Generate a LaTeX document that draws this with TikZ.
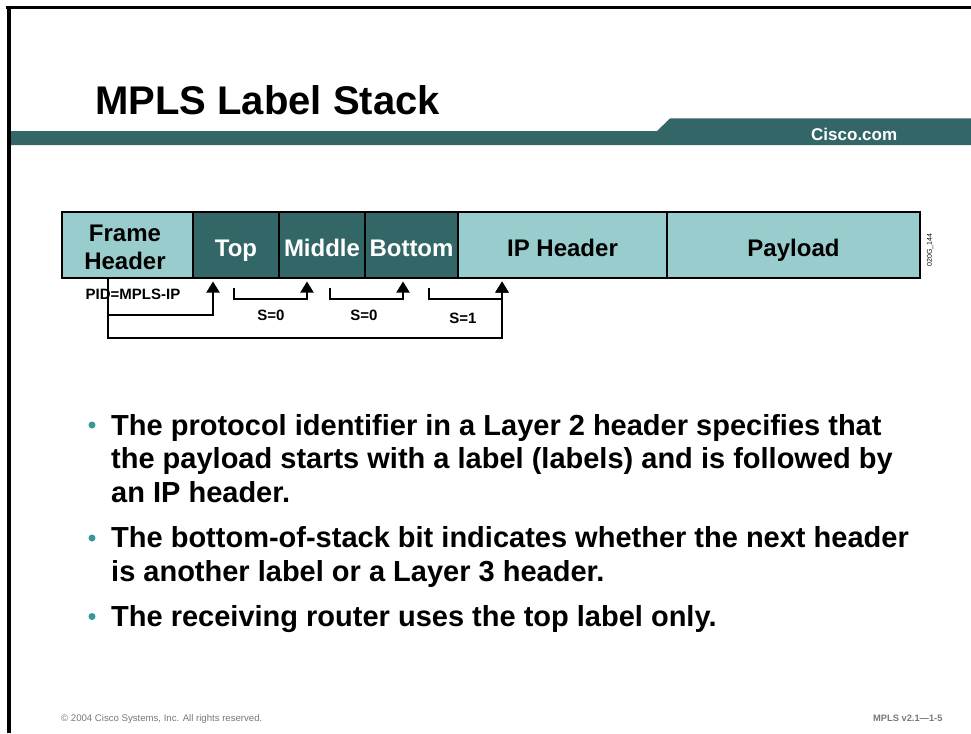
\documentclass[tikz,border=0pt]{standalone}
\usepackage{fontspec}
\setmainfont{Liberation Sans}
\usetikzlibrary{arrows.meta}
\definecolor{darkteal}{RGB}{51,102,102}
\definecolor{lightteal}{RGB}{153,204,204}
\definecolor{bullteal}{RGB}{51,153,153}
\definecolor{footgray}{RGB}{120,120,120}
\begin{document}
\begin{tikzpicture}[x=1pt,y=-1pt,
  field/.style={draw=black,line width=1.6pt,minimum height=66pt,inner sep=0pt,font=\fontsize{24}{28}\selectfont\bfseries,text height=23pt,text depth=0pt},
  lightfield/.style={field,fill=lightteal,text=black},
  darkfield/.style={field,fill=darkteal,text=white},
  conn/.style={line width=1.9pt,black},
  arr/.style={conn,-{Triangle[width=13pt,length=11pt]}},
  small/.style={font=\fontsize{15}{18}\selectfont\bfseries,inner sep=0pt},
  btext/.style={anchor=base west,inner sep=0pt,font=\fontsize{29}{34}\selectfont\bfseries},
  bdot/.style={circle,fill=bullteal,minimum size=7pt,inner sep=0pt}
]
\useasboundingbox (0,0) rectangle (971,733);
\fill[white] (0,0) rectangle (971,733);
% frame
\draw[line width=3.6pt] (6,7.7) -- (971,7.7);
\draw[line width=4pt] (8.8,5.9) -- (8.8,733);
% header bar
\fill[darkteal] (11,131) -- (657,131) -- (670,118.5) -- (971,118.5) -- (971,145) -- (11,145) -- cycle;
\node[anchor=base west,inner sep=0pt,font=\fontsize{40}{48}\selectfont\bfseries] (title) at (95,114) {MPLS Label Stack};
\node[anchor=base west,inner sep=0pt,text=white,font=\fontsize{17}{20}\selectfont\bfseries] (cisco) at (811,140) {Cisco.com};
% fields
\node[lightfield,minimum width=131pt] (fh) at (127.5,245) {};
\node[inner sep=0pt,align=center,font=\fontsize{24}{28}\selectfont\bfseries] (fhl) at (125,247) {Frame\\Header};
\node[darkfield,minimum width=86pt] (top) at (236,245) {Top};
\node[darkfield,minimum width=86pt] (mid) at (322,245) {Middle};
\node[darkfield,minimum width=93pt] (bot) at (411.5,245) {Bottom};
\node[lightfield,minimum width=209pt] (ip) at (562.5,245) {IP Header};
\node[lightfield,minimum width=253pt] (pay) at (793.5,245) {Payload};
\node[rotate=90,inner sep=0pt,font=\fontsize{7}{8}\selectfont] (code) at (930,250) {020G\_144};
% connector coordinates
\coordinate (pid) at (108,0);
\coordinate (c1) at (213,0);
\coordinate (sa) at (234,0); \coordinate (sae) at (307,0);
\coordinate (sb) at (330,0); \coordinate (sbe) at (403,0);
\coordinate (sc) at (429,0); \coordinate (sce) at (502,0);
\coordinate (ylow) at (0,338);
\coordinate (ymid) at (0,315);
\coordinate (ys) at (0,299);
\coordinate (ystart) at (0,288);
\coordinate (yend) at (0,281.5);
% connectors
\draw[arr] (fh.south -| pid) -- (pid |- ylow) -| (sce |- yend);
\draw[arr] (pid |- ymid) -| (c1 |- yend);
\draw[arr] (sa |- ystart) |- (sae |- ys) -- (sae |- yend);
\draw[arr] (sb |- ystart) |- (sbe |- ys) -- (sbe |- yend);
\draw[arr] (sc |- ystart) |- (sce |- ys) -- (sce |- yend);
% labels
\node[small] (pidl) at (133,294) {PID=MPLS-IP};
\node[small] (s0a) at (271,315.5) {S=0};
\node[small] (s0b) at (364,315.5) {S=0};
\node[small] (s1) at (463,318.5) {S=1};
% bullets
\node[bdot] (b1) at (92,425) {};
\node[btext] (l1) at (111,435) {The protocol identifier in a Layer 2 header specifies that};
\node[btext] (l2) at (111,468.5) {the payload starts with a label (labels) and is followed by};
\node[btext] (l3) at (111,502) {an IP header.};
\node[bdot] (b2) at (92,538) {};
\node[btext] (l4) at (111,547.5) {The bottom-of-stack bit indicates whether the next header};
\node[btext] (l5) at (111,581) {is another label or a Layer 3 header.};
\node[bdot] (b3) at (92,616.5) {};
\node[btext] (l6) at (111,626.5) {The receiving router uses the top label only.};
% footer
\node[anchor=base west,inner sep=0pt,text=footgray,font=\fontsize{9.6}{11}\selectfont] (copy) at (61,721) {\textcopyright{} 2004 Cisco Systems, Inc. All rights reserved.};
\node[anchor=base west,inner sep=0pt,text=footgray,font=\fontsize{9.3}{11}\selectfont\bfseries] (ver) at (873,721) {MPLS v2.1\textemdash1-5};
\end{tikzpicture}
\end{document}
